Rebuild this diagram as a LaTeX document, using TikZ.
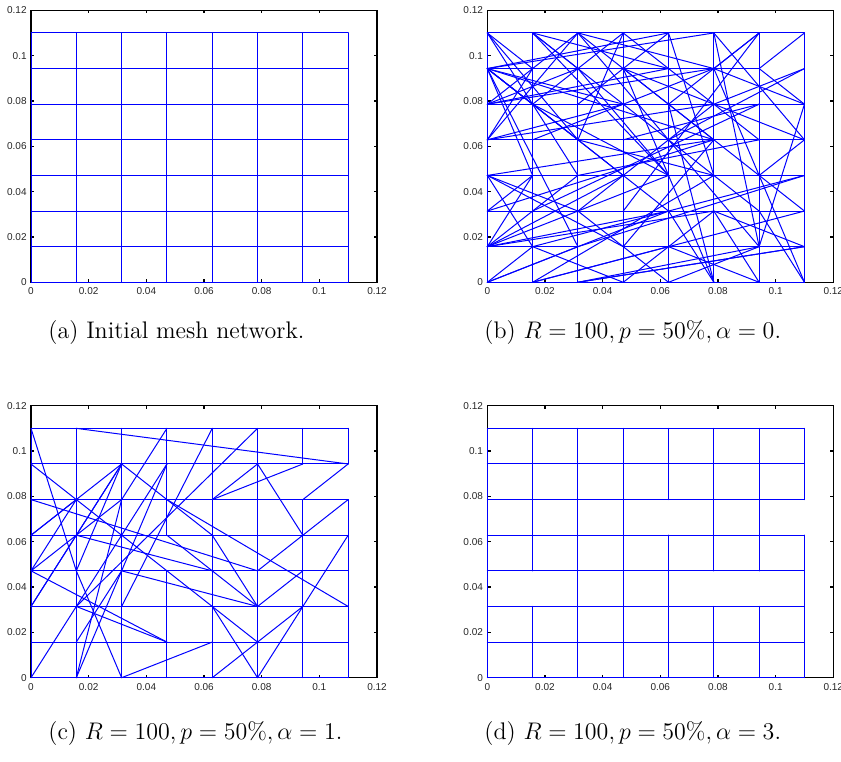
\documentclass[tikz,border=0pt]{standalone}
\usepackage{fontspec}
\newfontfamily\axfont{Liberation Sans}
\tikzset{
  axisbox/.style={draw=black, line width=0.55pt},
  meshline/.style={draw=blue, line width=0.5pt, line cap=round},
  ticklabel/.style={font=\axfont\fontsize{5}{6}\selectfont, inner sep=0pt, text=black!85},
  capt/.style={font=\fontsize{12}{14}\selectfont, inner sep=0pt, anchor=base west},
  panel/.style={x=22.655pt, y=17.81pt},
}
\newcommand\makeaxes[1]{%
  \draw[axisbox] (0,0) rectangle (7.63636,7.63636);
  \foreach \k/\lab in {0/0,1/0.02,2/0.04,3/0.06,4/0.08,5/0.1,6/0.12}{%
    \pgfmathsetmacro\tt{\k*1.272727}
    \draw[axisbox] (\tt,0) -- ++(0pt,1.6pt);
    \draw[axisbox] (\tt,7.63636) -- ++(0pt,-1.6pt);
    \draw[axisbox] (0,\tt) -- ++(1.6pt,0pt);
    \draw[axisbox] (7.63636,\tt) -- ++(-1.6pt,0pt);
    \node[ticklabel, anchor=east] (#1yl\k) at ([xshift=-2pt]0,\tt) {\lab};
    \node[ticklabel, anchor=north] (#1xl\k) at ([yshift=-2.6pt]\tt,0) {\lab};
  }%
  \foreach \i in {0,...,7}{\foreach \j in {0,...,7}{\coordinate (#1\i\j) at (\i,\j);}}%
}
\begin{document}
\begin{tikzpicture}[x=0.5pt,y=0.5pt]
\useasboundingbox (0,0) rectangle (841,761);

% ---------------- panel (a)
\begin{scope}[shift={(31,478.7)}, panel]
\makeaxes{a}
\foreach \j in {0,...,7}{\draw[meshline] (a0\j) -- (a7\j);}
\foreach \i in {0,...,7}{\draw[meshline] (a\i0) -- (a\i7);}
\end{scope}

% ---------------- panel (b)
\begin{scope}[shift={(487.3,478.7)}, panel]
\makeaxes{b}
\foreach \u/\v in {00/70,01/21,31/71,02/72,03/73,04/74,05/75,06/66,07/77}{\draw[meshline] (b\u) -- (b\v);}
\foreach \i in {0,...,7}{\draw[meshline] (b\i0) -- (b\i7);}
\foreach \u/\v in {07/16,07/24,07/23,
  06/47,06/57,06/15,06/24,06/33,06/42,06/35,06/54,06/13,06/21,
  05/16,05/26,05/56,05/46,
  04/16,04/27,04/35,04/55,
  03/22,03/11,03/31,03/54,
  02/13,02/54,
  01/13,01/23,01/33,01/43,01/42,01/52,
  00/11,00/21,00/42,
  17/35,17/43,17/46,17/26,
  27/44,27/54,27/16,27/56,
  37/15,37/24,37/64,
  47/53,47/25,
  57/74,57/61,
  67/56,67/45,67/32,
  77/66,
  76/55,76/44,
  75/61,75/66,75/56,
  74/63,74/36,
  73/11,73/21,
  72/10,72/36,
  71/20,71/52,
  70/62,70/56,
  60/41,60/52,
  50/36,50/42,
  40/22,40/61,
  30/11,30/52,
  20/61,20/71,
  10/53,10/41,
  12/65,14/56,22/55,23/64,31/54,45/50,44/61,34/65,35/62,24/53,15/43,26/43}
  {\draw[meshline] (b\u) -- (b\v);}
\end{scope}

% ---------------- panel (c)
\begin{scope}[shift={(31,83.3)}, panel]
\makeaxes{c}
\foreach \j in {0,...,7}{\draw[meshline] (c0\j) -- (c7\j);}
\foreach \u/\v in {00/07,10/17,20/27,30/33,34/37,40/47,50/57,60/65,66/67,70/75,76/77}{\draw[meshline] (c\u) -- (c\v);}
\foreach \u/\v in {17/76,07/13,13/20,06/42,05/53,47/22,57/12,45/56,45/66,56/64,65/76,
  53/75,74/62,62/50,51/62,42/51,40/51,42/50,52/63,35/72,
  03/14,03/15,03/31,04/15,04/26,02/14,02/26,00/24,10/25,10/36,20/41,
  26/14,26/13,26/44,25/37,25/14,36/24,44/52,34/52,23/52,14/43,12/31,11/23}
  {\draw[meshline] (c\u) -- (c\v);}
\end{scope}

% ---------------- panel (d)
\begin{scope}[shift={(487.3,83.3)}, panel]
\makeaxes{d}
\foreach \j in {0,...,7}{\draw[meshline] (d0\j) -- (d7\j);}
\foreach \u/\v in {00/07,10/12,13/17,20/27,30/37,40/44,45/47,50/52,53/57,60/62,63/67,70/74,75/77}{\draw[meshline] (d\u) -- (d\v);}
\end{scope}

% ---------------- captions
\node[capt] (capa) at (48,422) {(a) Initial mesh network.};
\node[capt] (capb) at (484,422) {(b) $R=100, p=50\%, \alpha=0$.};
\node[capt] (capc) at (48,22) {(c) $R=100, p=50\%, \alpha=1$.};
\node[capt] (capd) at (484,22) {(d) $R=100, p=50\%, \alpha=3$.};
\end{tikzpicture}
\end{document}
